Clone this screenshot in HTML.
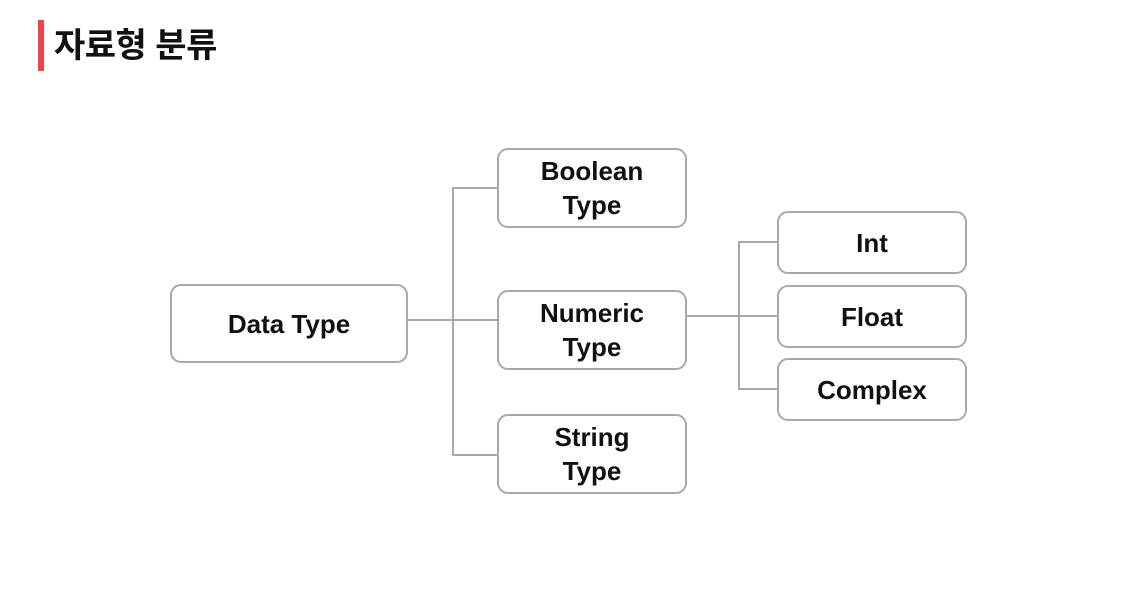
<!DOCTYPE html>
<html><head><meta charset="utf-8"><style>
body{margin:0;width:1121px;height:597px;background:#fff;position:relative;overflow:hidden;font-family:"Liberation Sans","Noto Sans CJK KR",sans-serif}
.bar{position:absolute;left:38px;top:20px;width:6px;height:51px;background:#f0434a}
.t{position:absolute;left:54px;top:24px;font-size:34px;font-weight:bold;color:#111;line-height:44px;letter-spacing:-0.5px}
.b{position:absolute;box-sizing:border-box;border:2px solid #a9a9a9;border-radius:11px;display:flex;align-items:center;justify-content:center;text-align:center;font-weight:bold;font-size:26px;line-height:34px;color:#111}
.l{position:absolute;background:#a9a9a9}
</style></head><body>
<div class="bar"></div><div class="t">자료형 분류</div>
<div class="l" style="left:407px;top:319px;width:91px;height:2px"></div>
<div class="l" style="left:452px;top:187px;width:2px;height:269px"></div>
<div class="l" style="left:452px;top:187px;width:46px;height:2px"></div>
<div class="l" style="left:452px;top:454px;width:46px;height:2px"></div>
<div class="l" style="left:686px;top:315px;width:92px;height:2px"></div>
<div class="l" style="left:738px;top:241px;width:2px;height:149px"></div>
<div class="l" style="left:738px;top:241px;width:40px;height:2px"></div>
<div class="l" style="left:738px;top:388px;width:40px;height:2px"></div>
<div class="b" style="left:170px;top:284px;width:238px;height:79px">Data Type</div>
<div class="b" style="left:497px;top:148px;width:190px;height:80px">Boolean<br>Type</div>
<div class="b" style="left:497px;top:290px;width:190px;height:80px">Numeric<br>Type</div>
<div class="b" style="left:497px;top:414px;width:190px;height:80px">String<br>Type</div>
<div class="b" style="left:777px;top:211px;width:190px;height:63px">Int</div>
<div class="b" style="left:777px;top:285px;width:190px;height:63px">Float</div>
<div class="b" style="left:777px;top:358px;width:190px;height:63px">Complex</div>
</body></html>
